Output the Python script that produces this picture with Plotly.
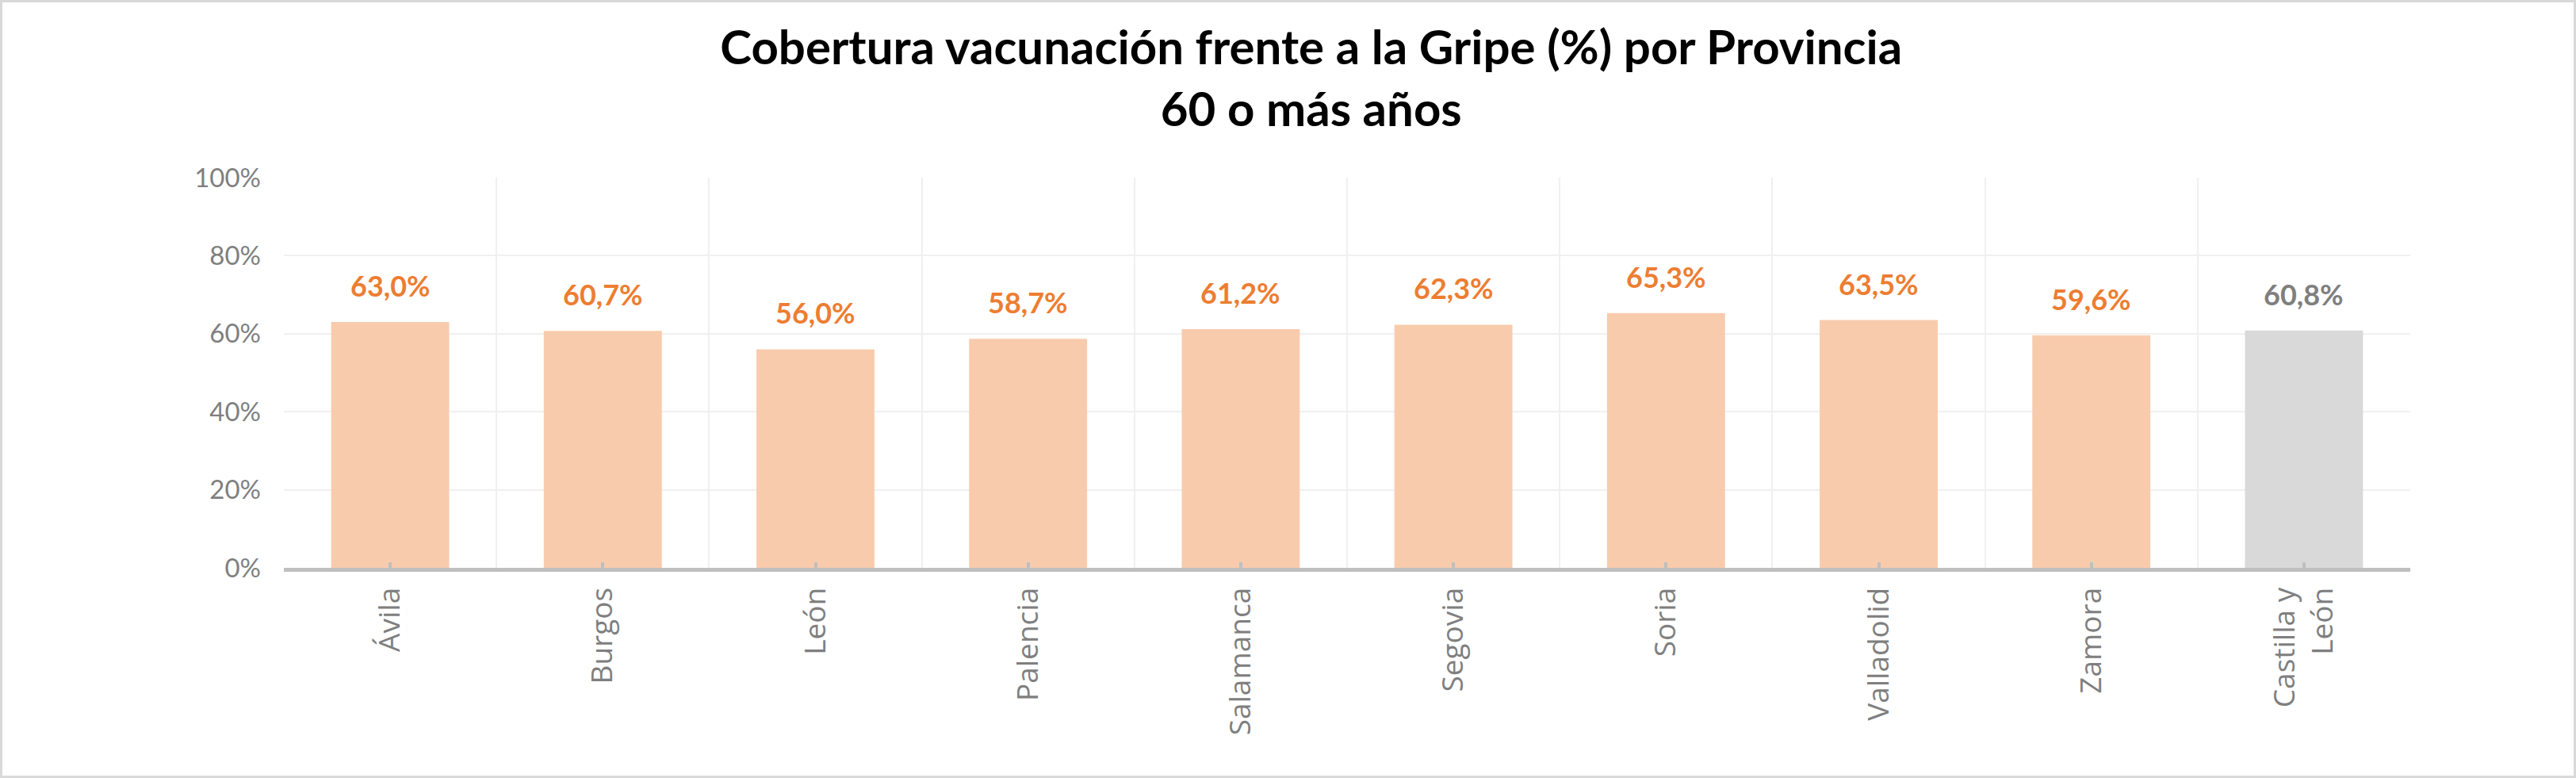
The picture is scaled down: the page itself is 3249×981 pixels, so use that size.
import plotly.graph_objects as go

# datos
provincias = ["Ávila", "Burgos", "León", "Palencia", "Salamanca", "Segovia",
              "Soria", "Valladolid", "Zamora", "Castilla y<br>León"]
cobertura = [63.0, 60.7, 56.0, 58.7, 61.2, 62.3, 65.3, 63.5, 59.6, 60.8]
y_ticks = [0, 20, 40, 60, 80, 100]

W, H = 3249, 981
ML, MR, MT, MB = 358, 209, 224, 265
PW, PH = W - ML - MR, H - MT - MB

bar_colors = ["#F8CBAD"] * (len(provincias) - 1) + ["#D9D9D9"]
label_colors = ["#ED7D31"] * (len(provincias) - 1) + ["#7F7F7F"]
pos = list(range(len(provincias)))


def fmt(v):
    return f"{v:.1f}".replace(".", ",") + "%"


fig = go.Figure()
fig.add_bar(
    x=pos,
    y=cobertura,
    marker=dict(color=bar_colors, line=dict(width=0)),
    width=0.555,
    hoverinfo="skip",
)

for p, v, c in zip(pos, cobertura, label_colors):
    fig.add_annotation(
        x=p, y=v, text=fmt(v), showarrow=False,
        xanchor="center", yanchor="bottom", yshift=22,
        font=dict(family="Lato", size=36, color=c, weight="bold"),
    )

# marco exterior del grafico
fig.add_shape(
    type="rect", xref="paper", yref="paper",
    x0=-(ML - 1.5) / PW, x1=1 + (MR - 1.5) / PW,
    y0=-(MB - 1.5) / PH, y1=1 + (MT - 1.5) / PH,
    line=dict(color="#D9D9D9", width=3), fillcolor="rgba(0,0,0,0)",
    layer="below",
)

fig.update_layout(
    width=W, height=H,
    margin=dict(l=ML, r=MR, t=MT, b=MB, pad=0),
    paper_bgcolor="white", plot_bgcolor="white",
    showlegend=False,
    title=dict(
        text="Cobertura vacunación frente a la Gripe (%) por Provincia<br>60 o más años",
        x=0.509, xanchor="center", y=0.917, yanchor="top",
        font=dict(family="Lato", size=60, color="black", weight="bold"),
    ),
    xaxis=dict(
        range=[-0.5, len(provincias) - 0.5],
        tickmode="array", tickvals=pos, ticktext=provincias,
        tickangle=-90,
        tickfont=dict(family="Open Sans", size=37, color="#7F7F7F"),
        ticks="inside", ticklen=7, tickwidth=4, tickcolor="#BFBFBF",
        ticklabelstandoff=5,
        showgrid=False,
        minor=dict(tickmode="array", tickvals=[p - 0.5 for p in pos] + [len(pos) - 0.5],
                   showgrid=True, gridcolor="#F0F0F0", gridwidth=2, ticks=""),
        showline=True, linecolor="#BFBFBF", linewidth=5,
        zeroline=False,
    ),
    yaxis=dict(
        range=[0, 100],
        tickmode="array", tickvals=y_ticks, ticktext=[f"{t}%" for t in y_ticks],
        tickfont=dict(family="Lato", size=33, color="#7F7F7F"),
        ticks="", ticklabelstandoff=28,
        showgrid=True, gridcolor="#F0F0F0", gridwidth=2,
        zeroline=False, showline=False,
    ),
)

# sin margen del body para que la figura llene la ventana
fig.write_html("out.html", config={"displayModeBar": False},
               post_script="document.body.style.margin='0';")
